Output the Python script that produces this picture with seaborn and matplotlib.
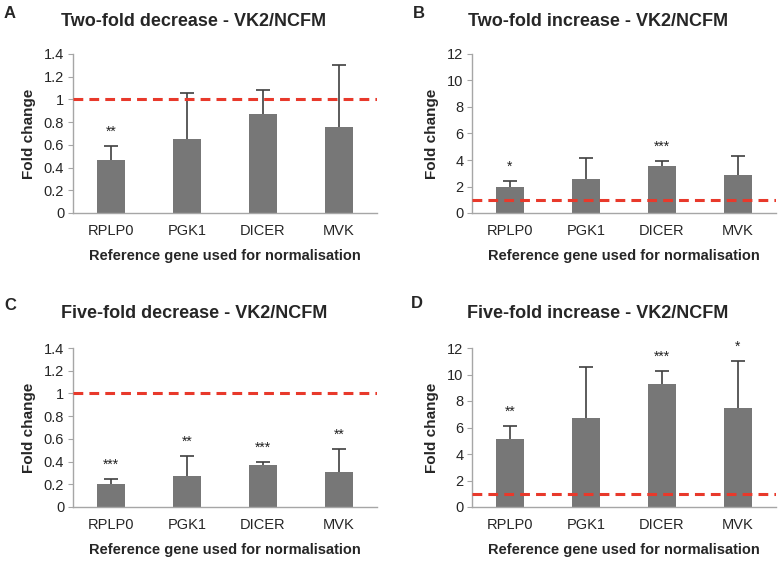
import numpy as np
import pandas as pd
import matplotlib
matplotlib.use("Agg")
import matplotlib.pyplot as plt
import seaborn as sns

sns.set_style("white")
plt.rcParams['font.family'] = ['Liberation Sans', 'DejaVu Sans']

genes = ["RPLP0", "PGK1", "DICER", "MVK"]

a_vals = [0.47, 0.65, 0.87, 0.76]
a_err = [0.12, 0.41, 0.21, 0.54]
a_stars = ["**", "", "", ""]

b_vals = [1.95, 2.55, 3.55, 2.9]
b_err = [0.45, 1.6, 0.4, 1.4]
b_stars = ["*", "", "***", ""]

c_vals = [0.20, 0.275, 0.37, 0.31]
c_err = [0.045, 0.175, 0.03, 0.2]
c_stars = ["***", "**", "***", "**"]

d_vals = [5.15, 6.7, 9.3, 7.5]
d_err = [1.0, 3.9, 0.95, 3.55]
d_stars = ["**", "", "***", "*"]

panels = [
    ("A", "Two-fold decrease - VK2/NCFM", a_vals, a_err, a_stars, 1.4, 0.2, True),
    ("B", "Two-fold increase - VK2/NCFM", b_vals, b_err, b_stars, 12, 2, False),
    ("C", "Five-fold decrease - VK2/NCFM", c_vals, c_err, c_stars, 1.4, 0.2, True),
    ("D", "Five-fold increase - VK2/NCFM", d_vals, d_err, d_stars, 12, 2, False),
]

W, H = 783, 561
fig = plt.figure(figsize=(W / 100, H / 100), dpi=100)

boxes = {"A": (73, 54, 377, 213), "B": (472, 54, 776, 213),
         "C": (73, 348, 377, 507), "D": (472, 348, 776, 507)}
title_pos = {"A": (194, 21), "B": (598, 21), "C": (194, 313), "D": (598, 314)}
letter_pos = {"A": (4, 13), "B": (413, 13), "C": (4, 305), "D": (411, 304)}

spine_col = "#a6a6a6"
bar_col = "#777777"

for letter, title, vals, errs, stars, ymax, step, decimal in panels:
    l, t, r, b = boxes[letter]
    ax = fig.add_axes([l / W, 1 - b / H, (r - l) / W, (b - t) / H])
    df = pd.DataFrame({"gene": genes, "fc": vals})
    sns.barplot(data=df, x="gene", y="fc", color=bar_col, saturation=1,
                width=0.38, ax=ax, errorbar=None, edgecolor="none")
    x = np.arange(len(genes))
    eb = ax.errorbar(x, vals, yerr=[np.zeros(len(errs)), errs], fmt="none",
                     ecolor="#404040", elinewidth=1.2, capsize=5, capthick=1.2)
    caps = eb[1]
    if len(caps) >= 2:
        caps[0].set_visible(False)
    ax.axhline(1, color="#e8392b", lw=2.2, ls=(0, (3.2, 2.0)), zorder=5)
    for xi, v, e, s in zip(x, vals, errs, stars):
        if s:
            ax.annotate(s, (xi, v + e), xytext=(0, 5), textcoords="offset points",
                        ha="center", va="bottom", fontsize=10, color="#222222")
    ax.set_xlim(-0.5, 3.5)
    ax.set_ylim(0, ymax)
    ticks = np.round(np.arange(0, ymax + step / 2, step), 2)
    ax.set_yticks(ticks)
    if decimal:
        ax.set_yticklabels([("%g" % tk) for tk in ticks])
    ax.tick_params(axis="y", length=3.8, color=spine_col, labelsize=10.5, pad=2.5, left=True)
    ax.tick_params(axis="x", length=0, labelsize=10.5, pad=8)
    for sp in ["top", "right"]:
        ax.spines[sp].set_visible(False)
    for sp in ["left", "bottom"]:
        ax.spines[sp].set_color(spine_col)
        ax.spines[sp].set_linewidth(1)
    ax.set_xlabel("Reference gene used for normalisation", fontsize=10.5,
                  fontweight="bold", labelpad=8)
    ax.set_ylabel("Fold change", fontsize=11, fontweight="bold", labelpad=6)
    tx, ty = title_pos[letter]
    fig.text(tx / W, 1 - ty / H, title, ha="center", va="center",
             fontsize=13, fontweight="bold")
    lx, ly = letter_pos[letter]
    fig.text(lx / W, 1 - ly / H, letter, ha="left", va="center",
             fontsize=12, fontweight="bold")

fig.savefig("out.png", dpi=100, facecolor="white")
